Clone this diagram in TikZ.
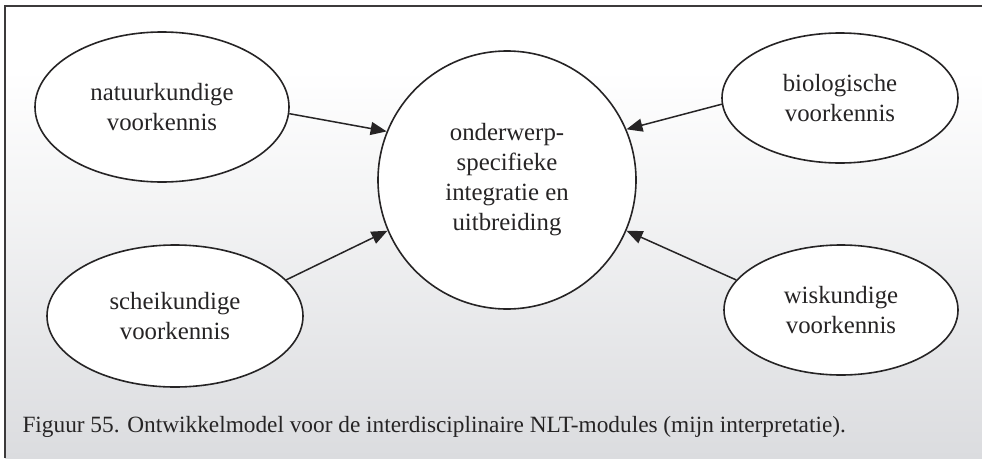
\documentclass[tikz,border=0pt]{standalone}
\usepackage{fontspec}
\setmainfont{Liberation Serif}
\usetikzlibrary{shapes.geometric,arrows.meta}
\definecolor{ink}{RGB}{38,36,37}
\definecolor{panelbottom}{RGB}{219,220,223}
\tikzset{
  topic/.style={ellipse, draw=ink, line width=1.6pt, fill=white, inner sep=0pt,
    align=center, text=ink, font=\fontsize{24.8}{30}\selectfont},
  core/.style={circle, draw=ink, line width=1.6pt, fill=white, inner sep=0pt,
    minimum size=258pt, align=center, text=ink, font=\fontsize{24.8}{30}\selectfont},
  feed/.style={draw=ink, line width=1.5pt, -{Triangle[length=16pt,width=13pt]}},
  caption/.style={anchor=west, text=ink, font=\fontsize{23.3}{26}\selectfont}
}
\begin{document}
\begin{tikzpicture}[x=1pt,y=-1pt]
  \useasboundingbox (0,0) rectangle (982,458);
  % panel background: white top fading to light grey
  \fill[white] (5,6) rectangle (982,70);
  \shade[top color=white, bottom color={white!60!panelbottom}] (5,70) rectangle (982,232);
  \shade[top color={white!60!panelbottom}, bottom color=panelbottom] (5,232) rectangle (982,458);
  \draw[ink!90, line width=2pt] (5,458) -- (5,6) -- (982,6);

  % nodes
  \node[core] (mid) at (507,180) {onderwerp-\\specifieke\\integratie en\\uitbreiding};
  \node[topic, minimum width=254pt, minimum height=150pt] (nat) at (162,107) {natuurkundige\\voorkennis};
  \node[topic, minimum width=236pt, minimum height=130pt] (bio) at (840,98) {biologische\\voorkennis};
  \node[topic, minimum width=256pt, minimum height=142pt] (sch) at (175,316) {scheikundige\\voorkennis};
  \node[topic, minimum width=234pt, minimum height=130pt] (wis) at (841,310) {wiskundige\\voorkennis};

  % connectors
  \draw[feed] (nat.-3) -- (mid.158);
  \draw[feed] (bio.183) -- (mid.23);
  \draw[feed] (sch.18) -- (mid.203);
  \draw[feed] (wis.164) -- (mid.-23);

  % caption
  \node[caption] (cap) at (19,427) {Figuur 55. Ontwikkelmodel voor de interdisciplinaire NLT-modules (mijn interpretatie).};
\end{tikzpicture}
\end{document}
